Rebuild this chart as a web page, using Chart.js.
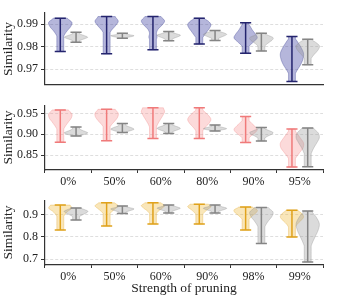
<!DOCTYPE html>
<html><head><meta charset="utf-8">
<script src="https://cdn.jsdelivr.net/npm/chart.js@4"></script>
<style>
html,body{margin:0;padding:0;background:#fff;}
body{width:359px;height:301px;position:relative;overflow:hidden;}
canvas{position:absolute;left:0;}
</style></head><body>
<canvas id="c1" width="359" height="95" style="top:0px"></canvas>
<canvas id="c2" width="359" height="100" style="top:95px"></canvas>
<canvas id="c3" width="359" height="111" style="top:190px"></canvas>
<script>
// ---------- DATA ----------
const labelsTop = ['0%','50%','60%','80%','90%','95%'];
const labelsBottom = ['0%','50%','60%','90%','98%','99%'];

const p1Ticks = [0.97, 0.98, 0.99];
const p2Ticks = [0.85, 0.90, 0.95];
const p3Ticks = [0.7, 0.8, 0.9];

// panel 1 (blue) : whisker extremes
const p1ColMin = [0.9778, 0.9768, 0.9786, 0.9812, 0.9771, 0.9645];
const p1ColMax = [0.9927, 0.9934, 0.9934, 0.9927, 0.9907, 0.9845];
const p1GrayMin = [0.9820, 0.9838, 0.9826, 0.9827, 0.9781, 0.9719];
const p1GrayMax = [0.9864, 0.9860, 0.9867, 0.9872, 0.9860, 0.9833];
// relative widths, bottom -> top
const p1ColShape = [
  [0.05,0.08,0.12,0.2,0.35,0.6,0.9,1.0,0.6],
  [0.04,0.06,0.08,0.12,0.2,0.4,0.75,1.0,0.75],
  [0.05,0.1,0.2,0.35,0.3,0.45,0.8,1.0,0.7],
  [0.05,0.15,0.3,0.5,0.7,0.9,1.0,0.8,0.4],
  [0.05,0.15,0.35,0.7,1.0,0.85,0.6,0.4,0.2],
  [0.05,0.2,0.45,0.75,0.95,1.0,0.8,0.5,0.2]
];
const p1GrayShape = [
  [0.1,0.25,0.5,0.8,1.0,0.8,0.5,0.25,0.1],
  [0.15,0.35,0.65,0.9,1.0,0.75,0.45,0.25,0.1],
  [0.1,0.2,0.4,0.65,0.9,1.0,0.7,0.4,0.15],
  [0.1,0.2,0.35,0.6,0.85,1.0,0.8,0.45,0.15],
  [0.05,0.12,0.25,0.45,0.7,0.95,1.0,0.6,0.2],
  [0.05,0.15,0.3,0.5,0.75,0.95,1.0,0.7,0.3]
];

// panel 2 (red)
const p2ColMin = [0.8811, 0.8847, 0.8898, 0.8900, 0.8800, 0.8210];
const p2ColMax = [0.9587, 0.9600, 0.9637, 0.9637, 0.9427, 0.9130];
const p2GrayMin = [0.8957, 0.9040, 0.9020, 0.9080, 0.8840, 0.8220];
const p2GrayMax = [0.9174, 0.9260, 0.9260, 0.9224, 0.9166, 0.9150];
const p2ColShape = [
  [0.05,0.1,0.15,0.25,0.45,0.7,0.95,1.0,0.7],
  [0.04,0.08,0.12,0.2,0.4,0.7,0.95,1.0,0.75],
  [0.05,0.1,0.2,0.3,0.45,0.65,0.85,1.0,0.9],
  [0.05,0.15,0.3,0.55,0.85,1.0,0.8,0.45,0.15],
  [0.05,0.2,0.45,0.8,1.0,0.8,0.5,0.25,0.1],
  [0.05,0.15,0.35,0.65,0.95,1.0,0.75,0.45,0.2]
];
const p2GrayShape = [
  [0.2,0.55,0.9,1.0,0.8,0.55,0.35,0.2,0.1],
  [0.15,0.45,0.8,1.0,0.85,0.6,0.35,0.2,0.1],
  [0.1,0.25,0.5,0.8,1.0,0.85,0.55,0.3,0.1],
  [0.15,0.45,0.8,1.0,0.85,0.6,0.35,0.2,0.1],
  [0.05,0.15,0.35,0.6,0.9,1.0,0.7,0.35,0.1],
  [0.05,0.1,0.2,0.35,0.55,0.8,1.0,0.9,0.5]
];

// panel 3 (yellow)
const p3ColMin = [0.831, 0.849, 0.858, 0.858, 0.831, 0.799];
const p3ColMax = [0.943, 0.953, 0.953, 0.947, 0.934, 0.920];
const p3GrayMin = [0.876, 0.905, 0.907, 0.907, 0.770, 0.687];
const p3GrayMax = [0.930, 0.939, 0.943, 0.943, 0.932, 0.916];
const p3ColShape = [
  [0.05,0.07,0.1,0.15,0.25,0.4,0.65,1.0,0.85],
  [0.05,0.07,0.1,0.15,0.25,0.45,0.75,1.0,0.7],
  [0.05,0.08,0.12,0.18,0.3,0.5,0.8,1.0,0.7],
  [0.05,0.08,0.12,0.18,0.3,0.5,0.75,1.0,0.8],
  [0.05,0.08,0.12,0.2,0.35,0.6,0.9,1.0,0.6],
  [0.05,0.1,0.18,0.3,0.5,0.8,1.0,0.85,0.5]
];
const p3GrayShape = [
  [0.05,0.12,0.25,0.45,0.7,0.95,1.0,0.7,0.35],
  [0.1,0.2,0.4,0.65,0.9,1.0,0.7,0.4,0.15],
  [0.1,0.2,0.35,0.6,0.85,1.0,0.75,0.45,0.15],
  [0.1,0.2,0.4,0.65,0.9,1.0,0.7,0.4,0.15],
  [0.03,0.06,0.1,0.2,0.35,0.6,0.9,1.0,0.6],
  [0.03,0.1,0.2,0.4,0.65,0.9,1.0,0.75,0.35]
];

// ---------- STYLE ----------
const FONT = "'Liberation Serif', 'Times New Roman', serif";
const GRAY = {fill:'rgba(160,160,160,0.38)', edge:'rgba(140,140,140,0.5)', line:'#858585'};

function catmull(p0,p1,p2,p3,t){
  const t2=t*t, t3=t2*t;
  return 0.5*((2*p1)+(-p0+p2)*t+(2*p0-5*p1+4*p2-p3)*t2+(-p0+3*p1-3*p2+p3)*t3);
}

const violinPlugin = {
  id:'violins',
  afterDatasetsDraw(chart){
    const ctx = chart.ctx;
    const xs = chart.scales.x, ys = chart.scales.y;
    const spacing = xs.getPixelForValue(1) - xs.getPixelForValue(0);
    const halfW = spacing*0.25, capW = spacing*0.12;
    const area = chart.chartArea;
    ctx.save();
    ctx.beginPath();
    ctx.rect(area.left, area.top-2, area.right-area.left, area.bottom-area.top+2);
    ctx.clip();
    // bodies
    chart.data.datasets.forEach((ds, d) => {
      const meta = chart.getDatasetMeta(d);
      ds.data.forEach((rng, i) => {
        const cx = meta.data[i].x;
        const shape = ds.shape[i];
        const n = shape.length;
        const [mn, mx] = rng;
        const samples = [];
        for (let k=0; k<n-1; k++){
          const w0 = shape[Math.max(0,k-1)], w1 = shape[k], w2 = shape[k+1], w3 = shape[Math.min(n-1,k+2)];
          for (let s=0; s<10; s++){
            const t = s/10;
            const v = mn + (mx-mn)*(k+t)/(n-1);
            samples.push({y: ys.getPixelForValue(v), w: Math.max(0.3, catmull(w0,w1,w2,w3,t))*halfW});
          }
        }
        samples.push({y: ys.getPixelForValue(mx), w: shape[n-1]*halfW});
        ctx.beginPath();
        samples.forEach((p,j)=>{ if(j===0) ctx.moveTo(cx+p.w,p.y); else ctx.lineTo(cx+p.w,p.y); });
        for (let j=samples.length-1;j>=0;j--){ const p=samples[j]; ctx.lineTo(cx-p.w,p.y); }
        ctx.closePath();
        ctx.fillStyle = ds.vFill;
        ctx.fill();
        ctx.lineWidth = 0.7;
        ctx.strokeStyle = ds.vEdge;
        ctx.stroke();
      });
    });
    // whiskers
    chart.data.datasets.forEach((ds, d) => {
      const meta = chart.getDatasetMeta(d);
      ctx.strokeStyle = ds.vLine;
      ctx.lineWidth = 1.5;
      ds.data.forEach((rng, i) => {
        const cx = meta.data[i].x;
        const y0 = ys.getPixelForValue(rng[0]), y1 = ys.getPixelForValue(rng[1]);
        ctx.beginPath();
        ctx.moveTo(cx, y0); ctx.lineTo(cx, y1);
        ctx.moveTo(cx-capW, y0); ctx.lineTo(cx+capW, y0);
        ctx.moveTo(cx-capW, y1); ctx.lineTo(cx+capW, y1);
        ctx.stroke();
      });
    });
    ctx.restore();
  }
};

function makePanel(id, p){
  return new Chart(document.getElementById(id), {
    type:'bar',
    data:{
      labels:p.labels,
      datasets:[
        {data:p.colMin.map((v,i)=>[v,p.colMax[i]]), shape:p.colShape, vFill:p.col.fill, vEdge:p.col.edge, vLine:p.col.line, backgroundColor:'rgba(0,0,0,0)', borderWidth:0},
        {data:p.grayMin.map((v,i)=>[v,p.grayMax[i]]), shape:p.grayShape, vFill:GRAY.fill, vEdge:GRAY.edge, vLine:GRAY.line, backgroundColor:'rgba(0,0,0,0)', borderWidth:0}
      ]
    },
    options:{
      responsive:false, animation:false, events:[],
      layout:{padding:{top:p.padTop, right:36, left:0, bottom:0}},
      plugins:{legend:{display:false}, tooltip:{enabled:false}},
      datasets:{bar:{categoryPercentage:0.68, barPercentage:1}},
      scales:{
        x:{
          type:'category', offset:true,
          afterFit:s=>{s.height=p.xH;},
          grid:{display:p.showX, drawOnChartArea:false, tickLength:3, tickColor:'#333', color:'#333'},
          border:{display:true, color:'#333', width:1.2},
          ticks:{display:p.showX, padding:2, color:'#222', maxRotation:0, font:{family:FONT, size:12}},
          title:{display:!!p.xTitle, text:p.xTitle||'', color:'#222', padding:{top:0,bottom:4}, font:{family:FONT, size:13.5}}
        },
        y:{
          min:p.yMin, max:p.yMax,
          afterFit:s=>{s.width=45;},
          afterBuildTicks:s=>{s.ticks=p.yTicks.map(v=>({value:v}));},
          ticks:{callback:v=>Number(v).toFixed(p.dec), padding:3, color:'#222', font:{family:FONT, size:12}},
          grid:{color:'#d6d6d6', lineWidth:0.8, tickLength:4, tickColor:'#333', tickBorderDash:[], tickWidth:1},
          border:{display:true, color:'#333', width:1.2, dash:[3,2]},
          title:{display:true, text:'Similarity', color:'#222', padding:{top:0,bottom:0}, font:{family:FONT, size:13.5}}
        }
      }
    },
    plugins:[violinPlugin]
  });
}

makePanel('c1', {labels:labelsTop, colMin:p1ColMin, colMax:p1ColMax, grayMin:p1GrayMin, grayMax:p1GrayMax,
  colShape:p1ColShape, grayShape:p1GrayShape, col:{fill:'rgba(60,64,160,0.38)', edge:'rgba(50,54,140,0.5)', line:'#24246e'},
  yMin:0.963, yMax:0.995, yTicks:p1Ticks, dec:2, padTop:13, xH:10, showX:false});
makePanel('c2', {labels:labelsTop, colMin:p2ColMin, colMax:p2ColMax, grayMin:p2GrayMin, grayMax:p2GrayMax,
  colShape:p2ColShape, grayShape:p2GrayShape, col:{fill:'rgba(245,140,140,0.32)', edge:'rgba(240,120,120,0.45)', line:'#f07a7a'},
  yMin:0.814, yMax:0.970, yTicks:p2Ticks, dec:2, padTop:8, xH:25, showX:true});
makePanel('c3', {labels:labelsBottom, colMin:p3ColMin, colMax:p3ColMax, grayMin:p3GrayMin, grayMax:p3GrayMax,
  colShape:p3ColShape, grayShape:p3GrayShape, col:{fill:'rgba(240,190,70,0.38)', edge:'rgba(225,170,50,0.5)', line:'#e0a21c'},
  yMin:0.673, yMax:0.965, yTicks:p3Ticks, dec:1, padTop:3, xH:36, showX:true, xTitle:'Strength of pruning'});
</script>
</body></html>
